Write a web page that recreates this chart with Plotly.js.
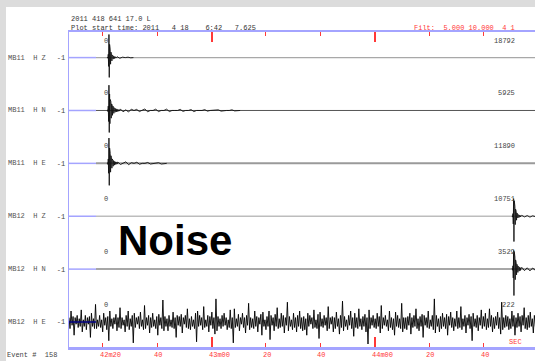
<!DOCTYPE html>
<html>
<head>
<meta charset="utf-8">
<script src="https://cdn.plot.ly/plotly-3.0.1.min.js"></script>
<style>
  html, body { margin:0; padding:0; background:#dcdcdc; width:535px; height:361px; overflow:hidden; }
  #panel { position:absolute; left:6px; top:7px; width:529px; height:354px; background:#ffffff; }
  #chart { position:absolute; left:0; top:0; width:535px; height:361px; }
</style>
</head>
<body>
<div id="panel"></div>
<div id="chart"></div>
<script>
// ---------------- DATA ----------------
const stations = ["MB11  H Z", "MB11  H N", "MB11  H E", "MB12  H Z", "MB12  H N", "MB12  H E"];
const peakCounts = ["18792", "5925", "11890", "10751", "3529", "222"];
const arrivalTimes = [22.1, 22.1, 22.1, 170.8, 170.8, 170.8]; // seconds after 6:42:00
const tickTimes = [20, 40, 60, 80, 100, 120, 140, 160];
const tickLabels = ["42m20", "40", "43m00", "20", "40", "44m00", "20", "40"];
const minuteTimes = [60, 120];
const plotStart = 7.625;
const plotEnd = 178.86;
const preWindowEnd = 17.55;

const headerLine1 = "2011 418 641 17.0 L";
const headerLine2 = "Plot start time: 2011   4 18    6:42   7.625";
const filterText = "Filt:  5.000 10.000  4 1";
const eventText = "Event #  158";
const noiseLabel = "Noise";

// normalized amplitudes, sampled every 0.12 s from arrival-0.4 s
const waveMB11HZ = [0,0.02,-0.03,0.15,-0.4,1.05,-0.9,0.6,-0.45,0.35,-0.3,0.25,-0.22,0.18,-0.15,0.12,-0.1,0.08,-0.07,0.06,-0.05,0.05,-0.04,0.04,-0.03,0.03,-0.02,0.02,-0.02,0.01];
const waveMB11HN = [0,0.03,-0.05,0.2,-0.5,1.15,-1.0,0.75,-0.6,0.5,-0.45,0.4,-0.35,0.3,-0.28,0.25,-0.22,0.2,-0.17,0.15,-0.13,0.12,-0.1,0.1,-0.08,0.08,-0.07,0.07,-0.06,0.06,-0.05,0.05,-0.05,0.04,-0.04,0.04,-0.03,0.03,-0.03,0.02];
const waveMB11HE = [0,0.03,-0.05,0.2,-0.45,1.15,-1.0,0.7,-0.55,0.45,-0.4,0.35,-0.3,0.26,-0.22,0.2,-0.17,0.15,-0.13,0.12,-0.1,0.1,-0.08,0.08,-0.07,0.06,-0.05,0.05,-0.04,0.04,-0.03,0.03];
const waveMB12HZ = [0,0.02,-0.04,0.12,-0.35,0.8,-1.15,0.7,-0.55,0.45,-0.38,0.32,-0.28,0.22,-0.18,0.15,-0.12,0.1,-0.08,0.07,-0.06,0.05,-0.05,0.04,-0.04,0.03,-0.03,0.03,-0.02,0.02];
const waveMB12HN = [0,0.03,-0.05,0.15,-0.4,0.85,-1.2,0.8,-0.65,0.55,-0.48,0.42,-0.36,0.3,-0.26,0.22,-0.2,0.17,-0.15,0.13,-0.12,0.1,-0.09,0.08,-0.07,0.07,-0.06,0.05,-0.05,0.04];

// coda, sampled every 1 s after the wave
const codaMB11HZ = [0.04,-0.03,0.02,0,0.02,-0.01,0];
const codaMB11HN = [0.07,-0.06,0.03,-0.07,0.06,0,0.05,-0.05,0,0.07,-0.06,0,0,0.06,-0.05,0,0,0.06,-0.05,0,0,0,0.05,-0.04,0,0,0.04,-0.05,0,0,0,0.04,-0.03,0,0,0,0.03,-0.03,0,0,0,0.03,-0.02,0,0];
const codaMB11HE = [0.06,-0.05,0,0.07,-0.06,0.03,0,0.05,-0.04,0,0,0.04,-0.03,0,0,0.03,-0.03,0,0];
const codaMB12HZ = [0.04,-0.03,0.03,-0.04,0.02,-0.02,0.03,-0.02];
const codaMB12HN = [0.08,-0.07,0.06,-0.08,0.05,-0.06,0.05,-0.04];

// MB12 H E noise, sampled every 0.375 s from plot start
const noiseMB12HE = [
 0.2,-0.3,0.5,-0.15,0.25,-0.6,0.2,-0.1,0.3,-0.25,
 0.15,-0.2,0.55,-0.45,0.1,-0.2,0.3,-0.35,0.2,-0.1,
 0.25,-0.7,0.4,-0.2,0.15,-0.3,0.8,-0.3,0.1,-0.2,
 0.3,-0.25,0.1,-0.45,0.4,-0.15,0.2,-0.35,0.25,-0.85,
 0.5,-0.2,0.15,-0.3,0.2,-0.1,0.35,-0.4,0.2,-0.25,
 0.65,-0.3,0.2,-0.15,0.1,-0.45,0.3,-0.2,0.5,-0.35,
 0.15,-0.2,0.3,-0.95,0.4,-0.25,0.2,-0.1,0.25,-0.3,
 0.45,-0.2,0.1,-0.35,0.75,-0.3,0.2,-0.15,0.3,-0.5,
 0.2,-0.25,0.4,-0.2,0.1,-0.3,0.25,-0.6,0.35,-0.15,
 0.2,-0.3,1.0,-0.4,0.25,-0.2,0.15,-0.4,0.3,-0.2,
 0.1,-0.25,0.45,-0.3,0.2,-0.7,0.3,-0.15,0.25,-0.2,
 0.35,-0.5,0.2,-0.1,0.3,-0.25,0.6,-0.3,0.15,-0.35,
 0.25,-0.2,0.1,-0.3,0.4,-0.9,0.5,-0.2,0.3,-0.15,
 0.2,-0.35,0.7,-0.25,0.1,-0.2,0.3,-0.45,0.25,-0.15,
 0.45,-0.3,0.2,-0.55,1.05,-0.4,0.25,-0.2,0.15,-0.3,
 0.3,-0.2,0.4,-0.15,0.2,-0.35,0.1,-0.25,0.55,-0.3,
 0.2,-0.95,0.6,-0.25,0.15,-0.2,0.35,-0.4,0.2,-0.1,
 0.4,-0.25,0.2,-0.5,0.3,-0.15,0.85,-0.35,0.2,-0.25,
 0.15,-0.3,0.5,-0.2,0.25,-0.45,0.2,-0.1,0.35,-0.6,
 0.45,-0.2,0.1,-0.35,0.25,-0.2,0.5,-0.8,0.3,-0.15,
 0.2,-0.4,0.35,-0.2,0.65,-0.3,0.15,-0.25,0.4,-0.2,
 0.3,-0.5,0.2,-0.15,0.9,-0.4,0.25,-0.2,0.1,-0.35,
 0.4,-0.25,0.2,-0.45,0.3,-0.2,0.5,-0.3,0.2,-0.4,
 0.25,-0.35,0.15,-0.6,0.4,-0.2,0.3,-0.1,0.2,-0.3,
 0.55,-0.25,0.1,-0.3,0.35,-0.75,0.45,-0.2,0.15,-0.25,
 0.3,-0.15,0.2,-0.4,0.7,-0.3,0.2,-0.1,0.25,-0.45,
 0.2,-0.3,0.45,-0.2,0.15,-0.55,0.3,-0.25,0.95,-0.4,
 0.25,-0.2,0.1,-0.35,0.3,-0.15,0.5,-0.3,0.2,-0.65,
 0.4,-0.25,0.2,-0.3,0.6,-0.2,0.15,-0.35,0.25,-0.2,
 0.35,-0.45,0.2,-1.0,0.55,-0.3,0.2,-0.15,0.3,-0.25,
 0.15,-0.3,0.4,-0.2,0.25,-0.5,0.75,-0.3,0.2,-0.15,
 0.3,-0.2,0.1,-0.4,0.5,-0.25,0.2,-0.35,0.15,-0.6,
 0.45,-0.2,0.3,-0.25,0.15,-0.3,0.85,-0.45,0.2,-0.3,
 0.2,-0.35,0.25,-0.15,0.4,-0.55,0.2,-0.25,0.3,-0.2,
 0.6,-0.3,0.15,-0.4,0.25,-0.2,0.35,-0.7,0.3,-0.15,
 0.2,-0.25,0.5,-0.3,0.1,-0.2,0.3,-0.35,1.05,-0.5,
 0.3,-0.2,0.15,-0.45,0.25,-0.3,0.4,-0.2,0.2,-0.3,
 0.35,-0.6,0.25,-0.15,0.45,-0.25,0.2,-0.4,0.15,-0.2,
 0.5,-0.3,0.2,-0.25,0.7,-0.35,0.15,-0.2,0.3,-0.5,
 0.2,-0.15,0.35,-0.3,0.25,-0.85,0.4,-0.2,0.15,-0.25,
 0.3,-0.4,0.2,-0.15,0.55,-0.3,0.25,-0.2,0.4,-0.35,
 0.15,-0.25,0.6,-0.2,0.3,-0.45,0.2,-0.3,0.25,-0.15,
 0.45,-0.3,0.2,-0.55,0.9,-0.35,0.2,-0.25,0.3,-0.2,
 0.25,-0.35,0.15,-0.3,0.5,-0.2,0.3,-0.6,0.2,-0.25,
 0.4,-0.2,0.25,-0.45,0.3,-0.15,0.65,-0.3,0.2,-0.35,
 0.3,-0.25,0.45,-0.2,0.15,-0.5,0.3,-0.2,0.25,-0.3
];

// ---------------- STYLE / LAYOUT ----------------
const waves = [waveMB11HZ, waveMB11HN, waveMB11HE, waveMB12HZ, waveMB12HN, null];
const codas = [codaMB11HZ, codaMB11HN, codaMB11HE, codaMB12HZ, codaMB12HN, null];
const waveDt = 0.12, waveLead = 0.4, codaDt = 1.0, noiseDt = 0.375;
const topOffset = 289.4, spacing = 52.88, ampScale = 22;
const offsets = stations.map((s, i) => topOffset - i * spacing);
const baseColors = ["#a8a8a8", "#555555", "#9a9a9a", "#bdbdbd", "#8a8a8a", "#000000"];
const baseWidths = [1.2, 1, 2, 1.5, 1.5, 1];
const frameBlue = "#a4a4ff";
const red = "#ff3838";
const mono = "Liberation Mono, DejaVu Sans Mono, monospace";
const nb = s => s.replace(/ /g, "\u00a0");

const traces = [];
stations.forEach((name, i) => {
  const off = offsets[i];
  if (i < 5) {
    traces.push({x: [preWindowEnd, plotEnd], y: [off, off], mode: "lines",
      line: {color: baseColors[i], width: baseWidths[i]}, hoverinfo: "skip", showlegend: false});
    const xs = [], ys = [];
    const t0 = arrivalTimes[i] - waveLead;
    waves[i].forEach((v, k) => { xs.push(t0 + k * waveDt); ys.push(off + v * ampScale); });
    const tc = t0 + waves[i].length * waveDt;
    codas[i].forEach((v, k) => { xs.push(tc + k * codaDt); ys.push(off + v * ampScale); });
    traces.push({x: xs, y: ys, mode: "lines", line: {color: "#111", width: 0.9}, hoverinfo: "skip", showlegend: false});
  } else {
    const xs = noiseMB12HE.map((v, k) => plotStart + k * noiseDt);
    const ys = noiseMB12HE.map(v => off + v * ampScale);
    traces.push({x: xs, y: ys, mode: "lines", line: {color: "#000", width: 0.9}, hoverinfo: "skip", showlegend: false});
  }
  traces.push({x: [plotStart, preWindowEnd], y: [off, off], mode: "lines",
    line: {color: i === 5 ? "#000080" : frameBlue, width: 1.5}, hoverinfo: "skip", showlegend: false});
});
// invisible anchors for the overlay axes
["x2", "x3", "x4"].forEach(ax => traces.push({x: [tickTimes[0]], y: [offsets[0]], xaxis: ax, mode: "markers",
  marker: {opacity: 0}, hoverinfo: "skip", showlegend: false}));

const ann = [];
const pxX = px => (px - 69) / 466;           // paper x from pixel
const pxY = py => (347 - py) / 315;          // paper y from pixel
const txt = (text, x, y, opt) => Object.assign({text: nb(text), x: x, y: y, showarrow: false,
  font: {family: mono, size: 7, color: "#333"}}, opt || {});

stations.forEach((name, i) => {
  const off = offsets[i];
  ann.push(txt(name, pxX(6), off, {xref: "paper", yref: "y", xanchor: "left", yanchor: "middle", font: {family: mono, size: 7, color: "#555"}}));
  ann.push(txt("0", 21.2, off + 17, {xref: "x", yref: "y", xanchor: "center", yanchor: "middle", font: {family: mono, size: 7, color: "#444"}}));
  ann.push(txt(peakCounts[i], 172.2, off + 17, {xref: "x", yref: "y", xanchor: "right", yanchor: "middle", font: {family: mono, size: 7, color: "#444"}}));
});
ann.push(txt(headerLine1, pxX(69), pxY(19), {xref: "paper", yref: "paper", xanchor: "left", yanchor: "middle"}));
ann.push(txt(headerLine2, pxX(69), pxY(28), {xref: "paper", yref: "paper", xanchor: "left", yanchor: "middle"}));
ann.push(txt(filterText, pxX(412), pxY(28), {xref: "paper", yref: "paper", xanchor: "left", yanchor: "middle", font: {family: mono, size: 7, color: red}}));
ann.push(txt("SEC", pxX(507), pxY(342), {xref: "paper", yref: "paper", xanchor: "left", yanchor: "middle", font: {family: mono, size: 7, color: red}}));
ann.push(txt(eventText, pxX(5), pxY(355), {xref: "paper", yref: "paper", xanchor: "left", yanchor: "middle", font: {family: mono, size: 7, color: "#444"}}));
tickTimes.forEach((t, k) => ann.push(txt(tickLabels[k], t, pxY(355), {xref: "x", yref: "paper", xanchor: "left", xshift: -5, yanchor: "middle", font: {family: mono, size: 7, color: red}})));
ann.push({text: "<b>" + noiseLabel + "</b>", x: 46.6, y: 347 - 240, xref: "x", yref: "y", xanchor: "center", yanchor: "middle",
  showarrow: false, font: {family: "Liberation Sans, Arial, sans-serif", size: 42, color: "#000"}});

const baseX = {range: [plotStart, plotEnd], showgrid: false, zeroline: false, fixedrange: true};
const layout = {
  width: 535, height: 361,
  margin: {l: 69, r: 0, t: 32, b: 14, pad: 0},
  paper_bgcolor: "rgba(0,0,0,0)", plot_bgcolor: "rgba(0,0,0,0)",
  showlegend: false,
  xaxis: Object.assign({}, baseX, {side: "bottom", showline: true, linecolor: frameBlue, linewidth: 3,
    tickmode: "array", tickvals: tickTimes, ticks: "inside", ticklen: 4, tickwidth: 1, tickcolor: red, showticklabels: false}),
  xaxis2: Object.assign({}, baseX, {side: "top", overlaying: "x", anchor: "y", showline: true, linecolor: frameBlue, linewidth: 2,
    tickmode: "array", tickvals: tickTimes, ticks: "inside", ticklen: 4, tickwidth: 1, tickcolor: red, showticklabels: false}),
  xaxis3: Object.assign({}, baseX, {side: "bottom", overlaying: "x", anchor: "y", showline: false,
    tickmode: "array", tickvals: minuteTimes, ticks: "inside", ticklen: 10, tickwidth: 2, tickcolor: red, showticklabels: false}),
  xaxis4: Object.assign({}, baseX, {side: "top", overlaying: "x", anchor: "y", showline: false,
    tickmode: "array", tickvals: minuteTimes, ticks: "inside", ticklen: 10, tickwidth: 2, tickcolor: red, showticklabels: false}),
  yaxis: {range: [0, 315], showgrid: false, zeroline: false, fixedrange: true, showline: true, linecolor: frameBlue, linewidth: 1.5,
    tickmode: "array", tickvals: offsets, ticktext: offsets.map(() => "-1"), ticks: "", ticklabelstandoff: 1,
    tickfont: {family: mono, size: 7, color: "#444"}},
  annotations: ann
};
Plotly.newPlot("chart", traces, layout, {staticPlot: true, displayModeBar: false});
</script>
</body>
</html>
